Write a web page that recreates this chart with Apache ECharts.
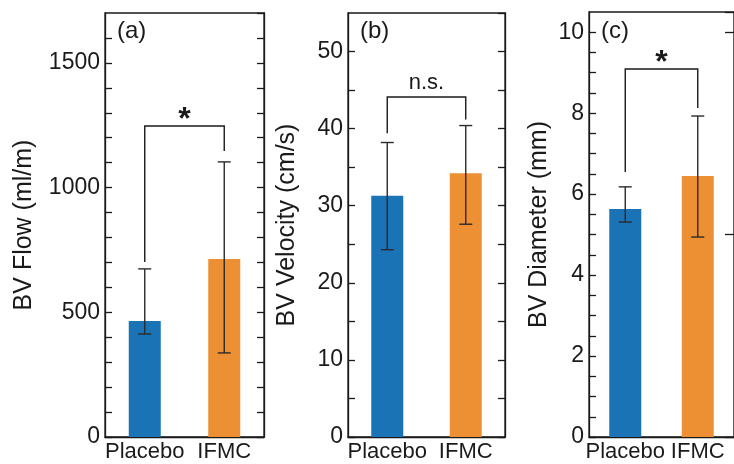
<!DOCTYPE html>
<html>
<head>
<meta charset="utf-8">
<script src="https://cdn.jsdelivr.net/npm/echarts@6/dist/echarts.min.js"></script>
<style>html,body{margin:0;padding:0;background:#fff;}#c{width:734px;height:464px;}</style>
</head>
<body>
<div id="c"></div>
<script>
const categories = ['Placebo', 'IFMC'];
const flowMean = [465, 714];
const flowLow = [413, 337];
const flowHigh = [674, 1103];
const velMean = [31.3, 34.2];
const velLow = [24.3, 27.6];
const velHigh = [38.2, 40.4];
const diaMean = [5.63, 6.45];
const diaLow = [5.31, 4.94];
const diaHigh = [6.18, 7.93];
// bracket: [left leg bottom, top, right leg bottom]
const flowBracket = [702, 1247, 1147];
const velBracket = [39.4, 44.1, 41.2];
const diaBracket = [6.55, 9.09, 8.13];
const sigLabels = ['*', 'n.s.', '*'];
const panelLabels = ['(a)', '(b)', '(c)'];
const axisNames = ['BV Flow (ml/m)', 'BV Velocity (cm/s)', 'BV Diameter (mm)'];
const yMax = [1700, 55, 10.5];
const minorStep = [100, 5, 0.5];
const majorStep = [500, 10, 2];

const means = [flowMean, velMean, diaMean];
const lows = [flowLow, velLow, diaLow];
const highs = [flowHigh, velHigh, diaHigh];
const brackets = [flowBracket, velBracket, diaBracket];

const FONT = 'Liberation Sans, Arial, sans-serif';
const TXT = '#1a1a1a';
const LINE = '#1a1a1a';
const colors = ['#1a73b4', '#ed8f33'];

const grids = [
  {left: 105, top: 13, width: 159, height: 424},
  {left: 348, top: 13, width: 157, height: 424},
  {left: 589, top: 12, width: 152, height: 425}
];
const nameGaps = [68, 48, 37];

const option = {
  animation: false,
  grid: grids.map(g => Object.assign({show: true, borderColor: LINE, borderWidth: 1.3, containLabel: false}, g)),
  xAxis: grids.map((g, i) => ({
    type: 'category', gridIndex: i, data: categories, boundaryGap: true,
    axisLine: {show: true, lineStyle: {color: LINE, width: 1.3}},
    axisTick: {show: false},
    axisLabel: {fontFamily: FONT, fontSize: 22, color: TXT, margin: 4, interval: 0}
  })),
  yAxis: [],
  series: [],
  graphic: []
};

for (let i = 0; i < 3; i++) {
  const maj = majorStep[i];
  option.yAxis.push({
    type: 'value', gridIndex: i, min: 0, max: yMax[i], interval: minorStep[i],
    name: axisNames[i], nameLocation: 'middle', nameGap: nameGaps[i],
    nameTextStyle: {fontFamily: FONT, fontSize: 25, color: TXT},
    axisLine: {show: true, lineStyle: {color: LINE, width: 1.3}},
    axisTick: {show: true, inside: true, length: 7, lineStyle: {color: LINE, width: 1.3}},
    splitLine: {show: false},
    axisLabel: {
      fontFamily: FONT, fontSize: 23, color: TXT, margin: 5, showMaxLabel: false,
      formatter: v => {
        const r = v / maj;
        return Math.abs(r - Math.round(r)) < 1e-6 ? String(Math.round(v * 100) / 100) : '';
      }
    }
  });
  option.yAxis.push({
    type: 'value', gridIndex: i, position: 'right', min: 0, max: yMax[i],
    interval: i === 2 ? 5 : minorStep[i],
    axisLine: {show: true, lineStyle: {color: LINE, width: 1.3}},
    axisTick: {show: true, inside: true, length: i === 2 ? 9 : 7, lineStyle: {color: LINE, width: 1.3}},
    axisLabel: {show: false},
    splitLine: {show: false}
  });
  const yIdx = i * 2;
  option.series.push({
    type: 'bar', xAxisIndex: i, yAxisIndex: yIdx, barWidth: 32,
    data: means[i].map((v, k) => ({value: v, itemStyle: {color: colors[k]}})),
    z: 2
  });
  option.series.push({
    type: 'custom', xAxisIndex: i, yAxisIndex: yIdx, z: 5,
    data: categories.map((c, k) => [k, lows[i][k], highs[i][k]]),
    renderItem: (params, api) => {
      const lo = api.coord([api.value(0), api.value(1)]);
      const hi = api.coord([api.value(0), api.value(2)]);
      const w = 6.5;
      const st = {stroke: '#2a2a2a', lineWidth: 1.4, fill: null};
      return {type: 'group', children: [
        {type: 'line', shape: {x1: hi[0], y1: hi[1], x2: lo[0], y2: lo[1]}, style: st},
        {type: 'line', shape: {x1: hi[0] - w, y1: hi[1], x2: hi[0] + w, y2: hi[1]}, style: st},
        {type: 'line', shape: {x1: lo[0] - w, y1: lo[1], x2: lo[0] + w, y2: lo[1]}, style: st}
      ]};
    }
  });
  const br = brackets[i];
  const sig = sigLabels[i];
  option.series.push({
    type: 'custom', xAxisIndex: i, yAxisIndex: yIdx, z: 6,
    data: [[0, 1, br[0], br[1], br[2]]],
    renderItem: (params, api) => {
      const a = api.coord([api.value(0), api.value(2)]);
      const t0 = api.coord([api.value(0), api.value(3)]);
      const t1 = api.coord([api.value(1), api.value(3)]);
      const b = api.coord([api.value(1), api.value(4)]);
      const isStar = sig === '*';
      return {type: 'group', children: [
        {type: 'polyline', shape: {points: [a, t0, t1, b]}, style: {stroke: LINE, lineWidth: 1.4, fill: null}},
        {type: 'text', x: (t0[0] + t1[0]) / 2, y: t0[1] + (isStar ? 10 : -3),
         style: {text: sig, fontFamily: FONT, fontSize: isStar ? 32 : 22, fontWeight: isStar ? 'bold' : 'normal',
                 fill: TXT, align: 'center', verticalAlign: 'bottom'}}
      ]};
    }
  });
  option.graphic.push({
    type: 'text', left: grids[i].left + 12, top: 19,
    style: {text: panelLabels[i], fontFamily: FONT, fontSize: 24, fill: TXT}
  });
}

const chart = echarts.init(document.getElementById('c'), null, {renderer: 'canvas'});
chart.setOption(option);
</script>
</body>
</html>
